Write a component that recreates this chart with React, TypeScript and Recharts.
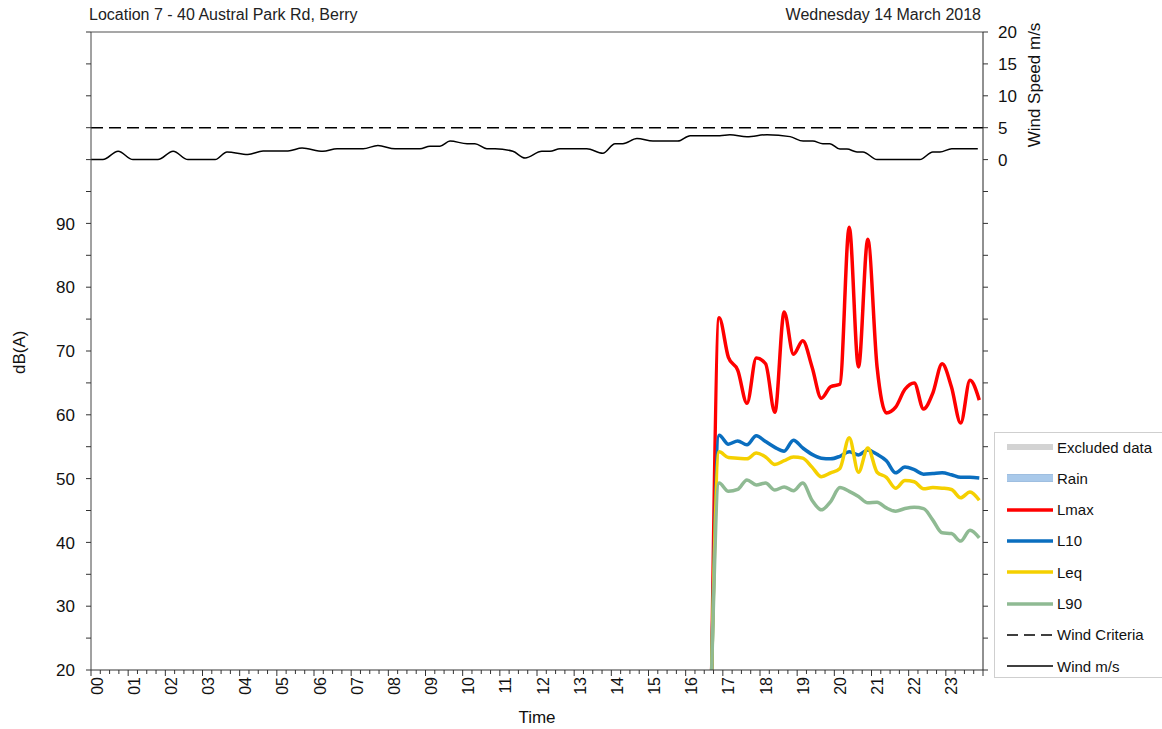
import React from 'react';
import { ComposedChart, Line, XAxis, YAxis, ReferenceLine } from 'recharts';

const FONT = '"Liberation Sans", Arial, sans-serif';

const titleLeft = 'Location 7 - 40 Austral Park Rd, Berry';
const titleRight = 'Wednesday 14 March 2018';

const hourLabels = ['00','01','02','03','04','05','06','07','08','09','10','11','12','13','14','15','16','17','18','19','20','21','22','23'];

const noiseTimes = [16.7, 16.9, 17.15, 17.4, 17.65, 17.9, 18.15, 18.4, 18.65, 18.9, 19.15, 19.4, 19.65, 19.9, 20.15, 20.4, 20.65, 20.9, 21.15, 21.4, 21.65, 21.9, 22.15, 22.4, 22.65, 22.9, 23.15, 23.4, 23.65, 23.9];
const lmax = [20, 75.2, 69, 67, 61.8, 68.9, 68, 60.4, 76.1, 69.5, 71.6, 67.5, 62.6, 64.4, 64.8, 89.4, 67.5, 87.5, 67.5, 60.3, 61.2, 64, 65, 60.9, 63.4, 68, 64.4, 58.7, 65.4, 62.3];
const l10 = [20, 56.8, 55.4, 55.9, 55.3, 56.7, 55.8, 54.9, 54.3, 56, 54.8, 53.8, 53.2, 53.1, 53.5, 54.2, 53.7, 54.5, 53.8, 52.8, 50.9, 51.8, 51.4, 50.7, 50.8, 50.9, 50.6, 50.2, 50.2, 50.1];
const leq = [20, 54.2, 53.3, 53.2, 53.1, 54, 53.4, 52.2, 52.8, 53.4, 53.2, 51.8, 50.3, 50.9, 51.6, 56.4, 51, 54.8, 51, 50.2, 48.5, 49.7, 49.5, 48.4, 48.6, 48.5, 48.3, 47, 47.9, 46.6];
const l90 = [20, 49.3, 48, 48.3, 49.8, 49, 49.3, 48.2, 48.7, 48.1, 49.3, 46.6, 45.1, 46.4, 48.6, 48, 47.2, 46.2, 46.3, 45.4, 44.9, 45.3, 45.5, 45.3, 43.5, 41.5, 41.4, 40.2, 41.9, 40.7];

const windTimes = [0, 0.32, 0.73, 1.13, 1.8, 2.21, 2.61, 3.34, 3.66, 4.22, 4.63, 5.3, 5.68, 6.24, 6.62, 7.32, 7.72, 8.18, 8.85, 9.12, 9.39, 9.66, 10.12, 10.33, 10.65, 10.87, 11.35, 11.68, 12.13, 12.35, 12.62, 13.34, 13.77, 14.1, 14.31, 14.69, 15.12, 15.79, 16.12, 16.92, 17.19, 17.65, 18.19, 18.81, 19.16, 19.42, 19.69, 19.88, 20.15, 20.34, 20.61, 20.77, 21.15, 22.3, 22.65, 22.84, 23.16, 23.86];
const windSpeed = [0, 0, 1.3, 0, 0, 1.3, 0, 0, 1.2, 0.8, 1.35, 1.35, 1.8, 1.3, 1.7, 1.7, 2.2, 1.7, 1.7, 2.1, 2.1, 2.9, 2.5, 2.5, 1.7, 1.7, 1.3, 0.25, 1.3, 1.3, 1.7, 1.7, 1.0, 2.5, 2.5, 3.3, 2.9, 2.9, 3.75, 3.75, 3.9, 3.6, 3.9, 3.6, 2.9, 2.9, 2.5, 2.5, 1.65, 1.65, 1.2, 1.2, 0, 0, 1.2, 1.2, 1.7, 1.7];

const windCriteriaTimes = [0, 24];
const windCriteriaValue = 5;

const xTicks = Array.from({ length: 97 }, (_, i) => i * 0.25);
const dbTicks = [20, 25, 30, 35, 40, 45, 50, 55, 60, 65, 70, 75, 80, 85, 90, 95, 100, 105, 110, 115, 120];
const windTicks = [-80, -75, -70, -65, -60, -55, -50, -45, -40, -35, -30, -25, -20, -15, -10, -5, 0, 5, 10, 15, 20];
const dbLabelled = [20, 30, 40, 50, 60, 70, 80, 90];
const windLabelled = [0, 5, 10, 15, 20];

const noiseData = noiseTimes.map((t, i) => ({ t, lmax: lmax[i], l10: l10[i], leq: leq[i], l90: l90[i] }));
const windData = windTimes.map((t, i) => ({ t, wind: windSpeed[i] }));
const criteriaData = windCriteriaTimes.map((t) => ({ t, crit: windCriteriaValue }));

const legendItems = [
  { name: 'Excluded data', color: '#d3d3d3', width: 6, dash: '', edge: '' },
  { name: 'Rain', color: '#a9c9ea', width: 6, dash: '', edge: '#7ea9d6' },
  { name: 'Lmax', color: '#ff0000', width: 3.5, dash: '', edge: '' },
  { name: 'L10', color: '#0a6ebf', width: 3.5, dash: '', edge: '' },
  { name: 'Leq', color: '#f5d000', width: 3.5, dash: '', edge: '' },
  { name: 'L90', color: '#8fba93', width: 3.5, dash: '', edge: '' },
  { name: 'Wind Criteria', color: '#000000', width: 1.5, dash: '11 6', edge: '' },
  { name: 'Wind m/s', color: '#000000', width: 1.3, dash: '', edge: '' },
];

const XTick = (props: any) => {
  const { x, y, payload } = props;
  const v = payload.value;
  const major = Math.abs(v - Math.round(v)) < 1e-6;
  const h = Math.round(v);
  return (
    <g>
      <line x1={x} x2={x} y1={y} y2={y + (major ? 6 : 4)} stroke="#333" strokeWidth={1} />
      {major && h < 24 && (
        <text transform={`translate(${x + 11.5},${y + 7}) rotate(-90)`} textAnchor="end" fontSize={16} fontFamily={FONT} fill="#111">
          {hourLabels[h]}
        </text>
      )}
    </g>
  );
};

const LeftTick = (props: any) => {
  const { x, y, payload } = props;
  const v = payload.value;
  return (
    <g>
      <line x1={x - 5} x2={x} y1={y} y2={y} stroke="#333" strokeWidth={1} />
      {dbLabelled.includes(v) && (
        <text x={x - 16} y={y} dy="0.36em" textAnchor="end" fontSize={17} fontFamily={FONT} fill="#111">
          {v}
        </text>
      )}
    </g>
  );
};

const RightTick = (props: any) => {
  const { x, y, payload } = props;
  const v = payload.value;
  return (
    <g>
      <line x1={x} x2={x + 5} y1={y} y2={y} stroke="#333" strokeWidth={1} />
      {windLabelled.includes(v) && (
        <text x={x + 15} y={y} dy="0.36em" textAnchor="start" fontSize={17} fontFamily={FONT} fill="#111">
          {v}
        </text>
      )}
    </g>
  );
};

export default function App() {
  return (
    <div style={{ position: 'absolute', left: 0, top: 0, width: 1162, height: 729, overflow: 'hidden', background: '#fff', fontFamily: FONT }}>
      <div style={{ position: 'absolute', left: 89, top: 6, fontSize: 16, color: '#222', whiteSpace: 'nowrap' }}>{titleLeft}</div>
      <div style={{ position: 'absolute', right: 1162 - 981, top: 6, fontSize: 16, color: '#222', whiteSpace: 'nowrap' }}>{titleRight}</div>
      <ComposedChart width={1162} height={729} margin={{ top: 32, right: 119, bottom: 19, left: 31 }}>
        <XAxis
          xAxisId="x"
          type="number"
          dataKey="t"
          domain={[0, 24]}
          ticks={xTicks}
          interval={0}
          tick={<XTick />}
          tickLine={false}
          tickSize={0}
          tickMargin={0}
          height={40}
          stroke="#333"
          label={{ value: 'Time', position: 'insideBottom', offset: -13, fontSize: 17, fill: '#111', fontFamily: FONT }}
        />
        <YAxis
          yAxisId="db"
          type="number"
          domain={[20, 120]}
          ticks={dbTicks}
          interval={0}
          tick={<LeftTick />}
          tickLine={false}
          tickSize={0}
          tickMargin={0}
          width={60}
          stroke="#444"
          label={{ value: 'dB(A)', angle: -90, position: 'insideLeft', offset: -12, fontSize: 17, fill: '#111', fontFamily: FONT, dy: 23 }}
        />
        <YAxis
          yAxisId="wind"
          orientation="right"
          type="number"
          domain={[-80, 20]}
          ticks={windTicks}
          interval={0}
          tick={<RightTick />}
          tickLine={false}
          tickSize={0}
          tickMargin={0}
          width={60}
          stroke="#222"
        />
        <ReferenceLine xAxisId="x" yAxisId="db" y={120} stroke="#8a8a8a" strokeWidth={1.5} />
        <Line xAxisId="x" yAxisId="wind" data={criteriaData} dataKey="crit" name="Wind Criteria" type="linear" stroke="#000" strokeWidth={1.6} strokeDasharray="12 6" dot={false} isAnimationActive={false} />
        <Line xAxisId="x" yAxisId="wind" data={windData} dataKey="wind" name="Wind m/s" type="monotone" stroke="#000" strokeWidth={1.5} dot={false} isAnimationActive={false} />
        <Line xAxisId="x" yAxisId="db" data={noiseData} dataKey="lmax" name="Lmax" type="monotone" stroke="#ff0000" strokeWidth={3.5} dot={false} isAnimationActive={false} />
        <Line xAxisId="x" yAxisId="db" data={noiseData} dataKey="l10" name="L10" type="monotone" stroke="#0a6ebf" strokeWidth={3.5} dot={false} isAnimationActive={false} />
        <Line xAxisId="x" yAxisId="db" data={noiseData} dataKey="leq" name="Leq" type="monotone" stroke="#f5d000" strokeWidth={3.5} dot={false} isAnimationActive={false} />
        <Line xAxisId="x" yAxisId="db" data={noiseData} dataKey="l90" name="L90" type="monotone" stroke="#8fba93" strokeWidth={3.5} dot={false} isAnimationActive={false} />
      </ComposedChart>
      <div style={{ position: 'absolute', left: 994, top: 432, width: 190, height: 246, border: '1px solid #cfcfcf', background: '#fff', boxSizing: 'border-box' }}>
        {legendItems.map((it, i) => (
          <div key={it.name} style={{ position: 'absolute', left: 0, top: 2 + i * 31.3, height: 24, display: 'flex', alignItems: 'center' }}>
            <svg width={60} height={24} style={{ display: 'block' }}>
              {it.edge ? <line x1={12} x2={58} y1={12} y2={12} stroke={it.edge} strokeWidth={it.width + 1.5} /> : null}
              <line x1={12} x2={58} y1={12} y2={12} stroke={it.color} strokeWidth={it.width} strokeDasharray={it.dash || undefined} />
            </svg>
            <span style={{ fontSize: 15, color: '#111', marginLeft: 2, whiteSpace: 'nowrap' }}>{it.name}</span>
          </div>
        ))}
      </div>
      <div style={{ position: 'absolute', left: 1035, top: 85, transform: 'translate(-50%,-50%) rotate(-90deg)', fontSize: 17, color: '#111', whiteSpace: 'nowrap' }}>Wind Speed m/s</div>
    </div>
  );
}
